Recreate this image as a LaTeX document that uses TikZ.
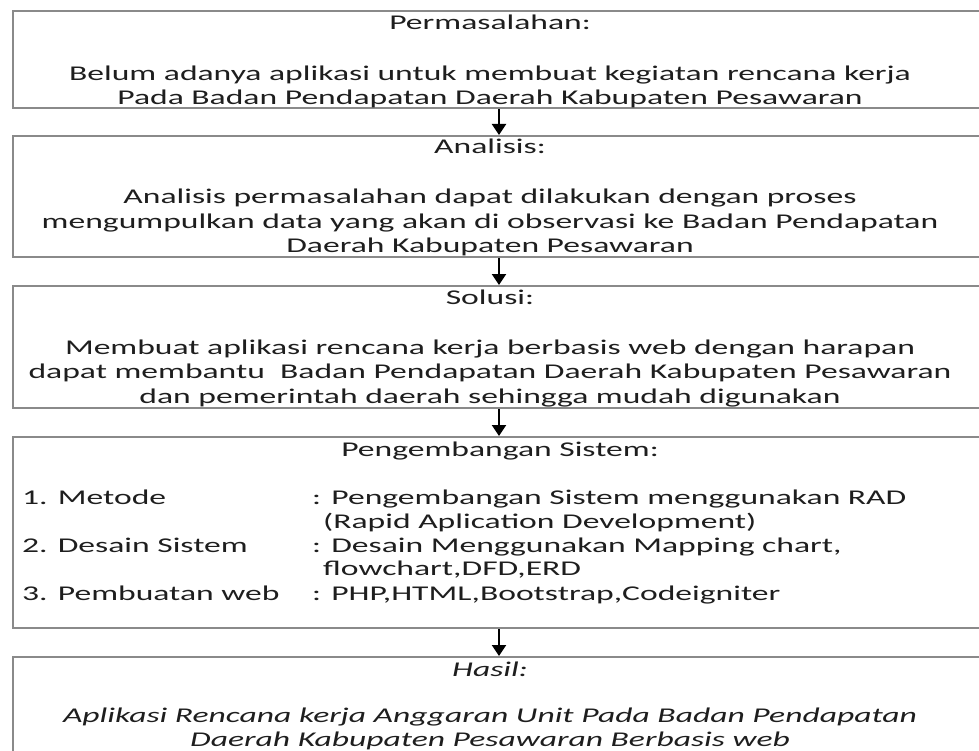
\documentclass[tikz,border=0pt]{standalone}
\usepackage{fontspec}
\setmainfont{Carlito}[FakeStretch=1.6]
\usetikzlibrary{arrows.meta}
\definecolor{boxgray}{HTML}{8A8A8A}
\definecolor{ink}{HTML}{1E1E1E}
\begin{document}
\begin{tikzpicture}[x=1pt,y=-1pt,
  panel/.style={draw=boxgray,line width=2pt,rectangle,inner sep=0pt,anchor=north west},
  lbl/.style={text=ink,font=\fontsize{21}{24.5}\selectfont,align=center,inner sep=0pt,anchor=base},
  itm/.style={text=ink,font=\fontsize{21}{24.5}\selectfont,align=left,inner sep=0pt,anchor=base west},
  flow/.style={draw=black,line width=2pt,-{Triangle[width=14pt,length=11pt]}}]
\useasboundingbox (0,0) rectangle (979,751);
\clip (0,0) rectangle (979,751);
% frames of the five stages
\node[panel,minimum width=972pt,minimum height=97pt] (b1) at (12,10) {};
\node[panel,minimum width=972pt,minimum height=121pt] (b2) at (12,135) {};
\node[panel,minimum width=972pt,minimum height=122pt] (b3) at (12,285) {};
\node[panel,minimum width=972pt,minimum height=191pt] (b4) at (12,436) {};
\node[panel,minimum width=972pt,minimum height=110pt] (b5) at (12,656) {};
% connectors between stages
\draw[flow] (b1.south) -- (b2.north);
\draw[flow] (b2.south) -- (b3.north);
\draw[flow] (b3.south) -- (b4.north);
\draw[flow] (b4.south) -- (b5.north);
% stage 1 (multi-line nodes sit on the baseline of their last line)
\node[lbl] (t1) at (490,30) {Permasalahan:};
\node[lbl] (t1b) at (490,105) {Belum adanya aplikasi untuk membuat kegiatan rencana kerja\\Pada Badan Pendapatan Daerah Kabupaten Pesawaran};
% stage 2
\node[lbl] (t2) at (490,154) {Analisis:};
\node[lbl] (t2b) at (490,253) {Analisis permasalahan dapat dilakukan dengan proses\\mengumpulkan data yang akan di observasi ke Badan Pendapatan\\Daerah Kabupaten Pesawaran};
% stage 3
\node[lbl] (t3) at (490,304) {Solusi:};
\node[lbl] (t3b) at (490,403) {Membuat aplikasi rencana kerja berbasis web dengan harapan\\dapat membantu \ Badan Pendapatan Daerah Kabupaten Pesawaran\\dan pemerintah daerah sehingga mudah digunakan};
% stage 4
\node[lbl] (t4) at (500,456) {Pengembangan Sistem:};
\node[itm] (m1) at (22,504) {1. Metode};
\node[itm] (m1v) at (312,504) {: Pengembangan Sistem menggunakan RAD};
\node[itm] (m1w) at (323,528) {(Rapid Aplication Development)};
\node[itm] (m2) at (22,552) {2. Desain Sistem};
\node[itm] (m2v) at (312,552) {: Desain Menggunakan Mapping chart,};
\node[itm] (m2w) at (323,575) {flowchart,DFD,ERD};
\node[itm] (m3) at (22,600) {3. Pembuatan web};
\node[itm] (m3v) at (312,600) {: PHP,HTML,Bootstrap,Codeigniter};
% stage 5
\node[lbl,font=\fontsize{21}{24.5}\selectfont\itshape] (t5) at (490,676) {Hasil:};
\node[lbl,font=\fontsize{21}{24}\selectfont\itshape] (t5b) at (490,746) {Aplikasi Rencana kerja Anggaran Unit Pada Badan Pendapatan\\Daerah Kabupaten Pesawaran Berbasis web};
\end{tikzpicture}
\end{document}
